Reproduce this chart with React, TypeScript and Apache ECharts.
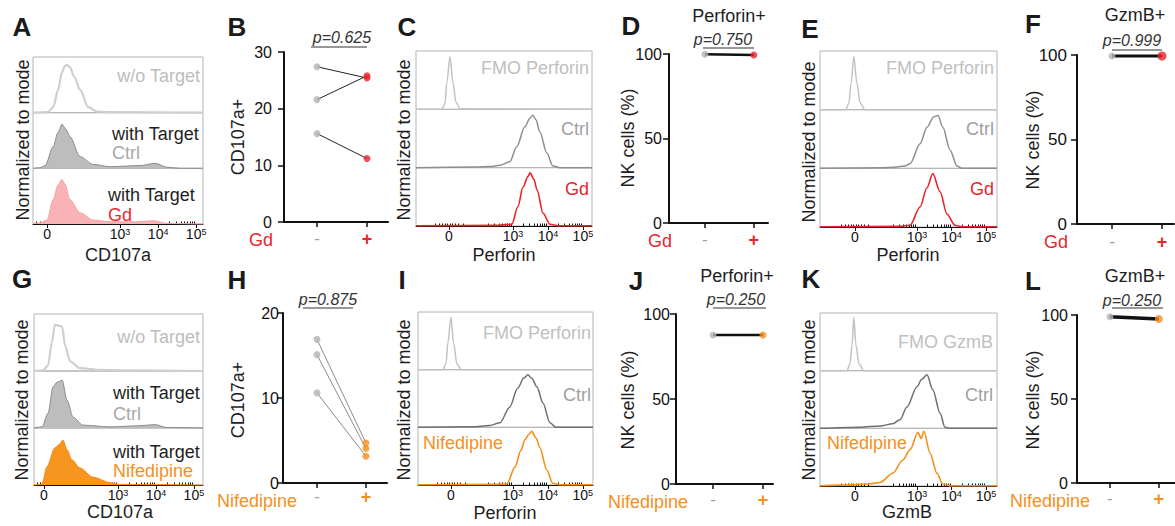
import React, { useEffect, useRef } from 'react';
import * as echarts from 'echarts';

const FONT = '"Liberation Sans", Arial, Helvetica, sans-serif';
const RED = '#e8262d';
const ORANGE = '#f5901e';
const LIGHT = '#c3c3c3';

type Pt = [number, number];

// ---------- histogram data: [display position (decade units), normalized height] ----------
const A_WO_TARGET: Pt[] = [[0.71,0],[1.1,0.01],[1.24,0.1],[1.37,0.41],[1.47,0.72],[1.55,0.84],[1.6,0.86],[1.68,0.82],[1.79,0.65],[1.95,0.41],[2.16,0.1],[2.39,0.02],[2.74,0.01],[5.18,0]];
const A_CTRL: Pt[] = [[0.71,0],[0.89,0.01],[1.03,0.05],[1.24,0.39],[1.37,0.65],[1.47,0.79],[1.58,0.7],[1.68,0.57],[1.95,0.21],[2.29,0.07],[2.74,0.03],[3.53,0.05],[3.92,0.09],[4.24,0.02],[4.58,0],[5.18,0]];
const A_GD: Pt[] = [[0.71,0.01],[0.89,0.02],[1.08,0.07],[1.24,0.44],[1.37,0.7],[1.47,0.8],[1.55,0.72],[1.68,0.44],[1.95,0.2],[2.29,0.07],[2.74,0.04],[3.5,0.04],[3.87,0.06],[4.24,0.01],[5.18,0]];

const C_FMO: Pt[] = [[0.23,0],[0.97,0],[1.06,0.1],[1.11,0.45],[1.2,0.9],[1.29,0.45],[1.37,0.12],[1.49,0.01],[5.26,0]];
const C_CTRL: Pt[] = [[0.23,0],[1.97,0.01],[2.34,0.02],[2.63,0.04],[2.91,0.1],[3.11,0.36],[3.34,0.7],[3.49,0.85],[3.57,0.9],[3.66,0.82],[3.77,0.61],[3.97,0.25],[4.14,0.03],[4.34,0],[5.26,0]];
const C_GD: Pt[] = [[0.23,0.005],[2.5,0.01],[2.97,0.03],[3.14,0.33],[3.29,0.67],[3.43,0.85],[3.49,0.91],[3.6,0.8],[3.69,0.62],[3.86,0.22],[4.06,0.03],[4.3,0.005],[5.26,0.005]];

const E_FMO: Pt[] = [[0.19,0],[0.94,0],[1.03,0.12],[1.09,0.45],[1.17,0.9],[1.26,0.45],[1.35,0.12],[1.49,0],[5.32,0]];
const E_CTRL: Pt[] = [[0.19,0],[1.93,0.01],[2.36,0.02],[2.65,0.04],[2.8,0.08],[3.09,0.42],[3.29,0.7],[3.49,0.88],[3.61,0.9],[3.75,0.7],[3.96,0.31],[4.16,0.04],[4.3,0],[5.32,0]];
const E_GD: Pt[] = [[0.19,0.005],[2.5,0.01],[2.8,0.03],[3.09,0.34],[3.29,0.67],[3.46,0.91],[3.67,0.6],[3.87,0.22],[4.1,0.03],[4.3,0.005],[5.32,0.005]];

const G_WO_TARGET: Pt[] = [[0.79,0],[1.03,0.01],[1.16,0.1],[1.26,0.5],[1.34,0.81],[1.42,0.8],[1.53,0.78],[1.61,0.44],[1.74,0.17],[2.0,0.05],[2.53,0.02],[3.2,0.01],[5.24,0]];
const G_CTRL: Pt[] = [[0.79,0],[1.0,0.02],[1.16,0.26],[1.29,0.72],[1.39,0.8],[1.53,0.84],[1.66,0.49],[1.82,0.19],[2.08,0.05],[2.79,0.02],[3.58,0.04],[3.97,0.06],[4.29,0.01],[5.24,0]];
const G_NIF: Pt[] = [[0.79,0],[1.0,0.01],[1.13,0.32],[1.34,0.65],[1.47,0.72],[1.55,0.79],[1.66,0.62],[1.79,0.44],[2.0,0.3],[2.34,0.14],[2.79,0.04],[3.05,0.01],[5.24,0]];

const I_FMO: Pt[] = [[0.29,0],[1.0,0],[1.09,0.1],[1.14,0.45],[1.23,0.91],[1.31,0.45],[1.4,0.1],[1.54,0],[5.29,0]];
const I_CTRL: Pt[] = [[0.29,0],[1.86,0.01],[2.34,0.03],[2.63,0.08],[2.91,0.35],[3.14,0.68],[3.31,0.85],[3.43,0.91],[3.54,0.85],[3.69,0.7],[3.86,0.42],[4.06,0.08],[4.23,0],[5.29,0]];
const I_NIF: Pt[] = [[0.29,0.005],[2.5,0.01],[2.83,0.02],[3.06,0.31],[3.23,0.6],[3.34,0.78],[3.46,0.88],[3.54,0.93],[3.66,0.82],[3.77,0.65],[3.97,0.26],[4.14,0.03],[4.35,0.005],[5.29,0.005]];

const K_FMO: Pt[] = [[0.19,0],[0.97,0],[1.06,0.12],[1.12,0.45],[1.17,0.93],[1.23,0.45],[1.32,0.12],[1.46,0],[5.32,0]];
const K_CTRL: Pt[] = [[0.19,0],[1.35,0.02],[1.93,0.04],[2.3,0.08],[2.51,0.15],[2.71,0.37],[3.0,0.72],[3.14,0.85],[3.29,0.93],[3.46,0.67],[3.67,0.26],[3.81,0.02],[3.96,0],[5.32,0]];
const K_NIF: Pt[] = [[0.19,0.005],[1.14,0.02],[1.64,0.04],[1.93,0.06],[2.3,0.22],[2.59,0.45],[2.8,0.63],[3.03,0.93],[3.12,0.82],[3.2,0.95],[3.38,0.57],[3.58,0.22],[3.75,0.03],[3.96,0.005],[5.32,0.005]];

// ---------- paired dot-plot data ----------
const B_CTRL = [27.4, 21.6, 15.6];
const B_GD = [25.4, 25.8, 11.2];
const D_CTRL = [99.8];
const D_GD = [99.4];
const F_CTRL = [99.4];
const F_GD = [99.4];
const H_CTRL = [16.9, 15.1, 10.6];
const H_NIF = [4.7, 4.05, 3.15];
const J_CTRL = [87.6];
const J_NIF = [87.6];
const L_CTRL = [99.0];
const L_NIF = [97.6];

// axis tick labels
const DECADES = [3, 4, 5];
const MINOR_MULTS = [2, 3, 4, 5, 6, 7, 8, 9];
const ZERO_TICK_OFFSETS = [-0.4, -0.28, -0.18, -0.1, -0.04, 0.04, 0.1, 0.18, 0.28, 0.4];
const GROUP_LABELS = ['-', '+'];

interface Track { data: Pt[]; line: string; width: number; fill?: string }
interface Hist { L: number; R: number; T: number; B: number; umin: number; umax: number; zero: number; tracks: Track[] }
interface Dot {
  X: number; R: number; T: number; B: number; xmin: number; xmax: number; ymax: number; interval: number;
  ctrl: number[]; treat: number[]; color: string; lineColor: string; lineWidth: number; dot: number; tdot: number;
  xMargin: number; yMargin: number; yFont?: number;
}

function buildOption() {
  const grid: any[] = [], xAxis: any[] = [], yAxis: any[] = [], series: any[] = [];

  const addHist = (p: Hist) => {
    const h = (p.B - p.T) / 3;
    const majors = [p.zero, ...DECADES];
    const minors: number[] = [];
    ZERO_TICK_OFFSETS.forEach((o) => minors.push(p.zero + o));
    [2, 3, 4].forEach((d) => MINOR_MULTS.forEach((m) => {
      const v = d + Math.log10(m);
      if (v > p.zero + 0.5 && v < p.umax) minors.push(v);
    }));
    p.tracks.forEach((t, i) => {
      const gi = grid.length;
      grid.push({ left: p.L, top: p.T + i * h, width: p.R - p.L, height: h, show: true, borderColor: '#b4b4b4', borderWidth: 1, backgroundColor: 'transparent' });
      const bottom = i === 2;
      const xi = xAxis.length;
      xAxis.push({
        type: 'value', gridIndex: gi, min: p.umin, max: p.umax, show: bottom,
        axisLine: { show: true, onZero: false, lineStyle: { color: '#111', width: 1 } },
        axisTick: { show: true, length: 4, customValues: majors, lineStyle: { color: '#111', width: 1 } },
        axisLabel: {
          show: true, customValues: majors, margin: 3,
          formatter: (v: number) => (Math.abs(v - p.zero) < 1e-6 ? '{n|0}' : `{n|10}{s|${Math.round(v)}}`),
          rich: {
            n: { fontSize: 14, fontFamily: FONT, color: '#111' },
            s: { fontSize: 9, fontFamily: FONT, color: '#111', verticalAlign: 'top' },
          },
        },
        splitLine: { show: false },
      });
      if (bottom) {
        xAxis.push({
          type: 'value', gridIndex: gi, min: p.umin, max: p.umax, show: true,
          axisLine: { show: false },
          axisTick: { show: true, length: 2.5, customValues: minors, lineStyle: { color: '#111', width: 1 } },
          axisLabel: { show: false },
          splitLine: { show: false },
        });
      }
      const yi = yAxis.length;
      yAxis.push({ type: 'value', gridIndex: gi, min: 0, max: 1, show: false, splitLine: { show: false } });
      series.push({
        type: 'line', xAxisIndex: xi, yAxisIndex: yi, data: t.data, symbol: 'none', showSymbol: false,
        smooth: 0.3, smoothMonotone: 'x', clip: false, silent: true,
        lineStyle: { color: t.line, width: t.width },
        areaStyle: t.fill ? { color: t.fill, opacity: 1 } : undefined,
        z: 2,
      });
    });
  };

  const addDot = (p: Dot) => {
    const gi = grid.length;
    grid.push({ left: p.X, top: p.T, width: p.R - p.X, height: p.B - p.T, show: false });
    const xi = xAxis.length;
    xAxis.push({
      type: 'value', gridIndex: gi, min: p.xmin, max: p.xmax,
      axisLine: { show: true, onZero: false, lineStyle: { color: '#111', width: 2 } },
      axisTick: { show: true, length: 5, customValues: [1, 2], lineStyle: { color: '#111', width: 1.5 } },
      axisLabel: {
        show: true, customValues: [1, 2], margin: p.xMargin,
        formatter: (v: number) => (v < 1.5 ? `{m|${GROUP_LABELS[0]}}` : `{p|${GROUP_LABELS[1]}}`),
        rich: {
          m: { fontSize: 17, fontFamily: FONT, color: '#a0a0a0' },
          p: { fontSize: 18, fontFamily: FONT, color: p.color, fontWeight: 'bold' },
        },
      },
      splitLine: { show: false },
    });
    const yi = yAxis.length;
    yAxis.push({
      type: 'value', gridIndex: gi, min: 0, max: p.ymax, interval: p.interval,
      axisLine: { show: true, onZero: false, lineStyle: { color: '#111', width: 2 } },
      axisTick: { show: true, length: 6, lineStyle: { color: '#111', width: 1.5 } },
      axisLabel: { show: true, fontSize: p.yFont || 17, fontFamily: FONT, color: '#111', margin: p.yMargin },
      splitLine: { show: false },
    });
    p.ctrl.forEach((c, i) => {
      series.push({
        type: 'line', xAxisIndex: xi, yAxisIndex: yi, data: [[1, c], [2, p.treat[i]]], symbol: 'none',
        clip: false, silent: true, lineStyle: { color: p.lineColor, width: p.lineWidth }, z: 2,
      });
    });
    series.push({
      type: 'scatter', xAxisIndex: xi, yAxisIndex: yi, data: p.ctrl.map((v) => [1, v]), symbolSize: p.dot,
      clip: false, silent: true, itemStyle: { color: '#b4b4b4' }, z: 3,
    });
    series.push({
      type: 'scatter', xAxisIndex: xi, yAxisIndex: yi, data: p.treat.map((v) => [2, v]), symbolSize: p.tdot,
      clip: false, silent: true, itemStyle: { color: p.color }, z: 3,
    });
  };

  // Row 1
  addHist({ L: 33, R: 203, T: 57, B: 224, umin: 0.71, umax: 5.18, zero: 1.08, tracks: [
    { data: A_WO_TARGET, line: '#cfcfcf', width: 2.2 },
    { data: A_CTRL, line: '#8d8d8d', width: 1, fill: '#bdbdbd' },
    { data: A_GD, line: '#f7a3a7', width: 1, fill: '#f9b3b6' },
  ] });
  addDot({ X: 284, R: 388, T: 52, B: 222, xmin: 0.34, xmax: 2.42, ymax: 30, interval: 10, ctrl: B_CTRL, treat: B_GD,
    color: RED, lineColor: '#222', lineWidth: 1, dot: 7, tdot: 7, xMargin: 8, yMargin: 12, yFont: 16 });
  addHist({ L: 416, R: 592, T: 51, B: 226, umin: 0.23, umax: 5.26, zero: 1.17, tracks: [
    { data: C_FMO, line: LIGHT, width: 1.5 },
    { data: C_CTRL, line: '#8e8e8e', width: 1.5 },
    { data: C_GD, line: RED, width: 1.6 },
  ] });
  addDot({ X: 669, R: 768, T: 54, B: 223, xmin: 0.265, xmax: 2.29, ymax: 100, interval: 50, ctrl: D_CTRL, treat: D_GD,
    color: RED, lineColor: '#111', lineWidth: 2.5, dot: 7, tdot: 7, xMargin: 8, yMargin: 7, yFont: 16 });
  addHist({ L: 820, R: 997, T: 51, B: 227, umin: 0.19, umax: 5.32, zero: 1.2, tracks: [
    { data: E_FMO, line: LIGHT, width: 1.5 },
    { data: E_CTRL, line: '#8e8e8e', width: 1.5 },
    { data: E_GD, line: RED, width: 1.6 },
  ] });
  addDot({ X: 1077, R: 1174, T: 55, B: 224, xmin: 0.3, xmax: 2.24, ymax: 100, interval: 50, ctrl: F_CTRL, treat: F_GD,
    color: RED, lineColor: '#111', lineWidth: 3, dot: 7, tdot: 9, xMargin: 9, yMargin: 10 });

  // Row 2
  addHist({ L: 34, R: 203, T: 314, B: 485, umin: 0.79, umax: 5.24, zero: 1.05, tracks: [
    { data: G_WO_TARGET, line: '#cfcfcf', width: 2.2 },
    { data: G_CTRL, line: '#8d8d8d', width: 1, fill: '#bdbdbd' },
    { data: G_NIF, line: '#f48c18', width: 1, fill: '#f7961f' },
  ] });
  addDot({ X: 283, R: 387, T: 313, B: 483, xmin: 0.306, xmax: 2.43, ymax: 20, interval: 10, ctrl: H_CTRL, treat: H_NIF,
    color: ORANGE, lineColor: '#8c8c8c', lineWidth: 1, dot: 7, tdot: 7, xMargin: 5, yMargin: 4, yFont: 16 });
  addHist({ L: 418, R: 593, T: 312, B: 485, umin: 0.29, umax: 5.29, zero: 1.23, tracks: [
    { data: I_FMO, line: LIGHT, width: 1.5 },
    { data: I_CTRL, line: '#6f6f6f', width: 1.5 },
    { data: I_NIF, line: ORANGE, width: 1.6 },
  ] });
  addDot({ X: 676, R: 773, T: 314, B: 484, xmin: 0.26, xmax: 2.2, ymax: 100, interval: 50, ctrl: J_CTRL, treat: J_NIF,
    color: ORANGE, lineColor: '#111', lineWidth: 2.5, dot: 7, tdot: 7, xMargin: 7, yMargin: 6, yFont: 16 });
  addHist({ L: 820, R: 997, T: 313, B: 486, umin: 0.19, umax: 5.32, zero: 1.2, tracks: [
    { data: K_FMO, line: LIGHT, width: 1.5 },
    { data: K_CTRL, line: '#6f6f6f', width: 1.5 },
    { data: K_NIF, line: ORANGE, width: 1.6 },
  ] });
  addDot({ X: 1077, R: 1175, T: 315, B: 483, xmin: 0.327, xmax: 2.33, ymax: 100, interval: 50, ctrl: L_CTRL, treat: L_NIF,
    color: ORANGE, lineColor: '#111', lineWidth: 3.5, dot: 7, tdot: 8, xMargin: 7, yMargin: 9, yFont: 16 });

  // ---------- texts ----------
  const g: any[] = [];
  const txt = (x: number, y: number, text: string, o: any = {}) => {
    const align = o.align || 'center';
    g.push({
      type: 'text', x, y, rotation: o.rot ? Math.PI / 2 : 0, z: 100, silent: true,
      style: {
        text, x: 0, y: 0, fill: o.color || '#1e1e1e',
        font: `${o.italic ? 'italic ' : ''}${o.bold ? 'bold ' : ''}${o.size || 18}px ${FONT}`,
        align, textAlign: align, verticalAlign: 'middle', textVerticalAlign: 'middle',
      },
    });
  };
  const uline = (x1: number, x2: number, y: number) => {
    g.push({ type: 'line', z: 100, silent: true, shape: { x1, y1: y, x2, y2: y }, style: { stroke: '#333', lineWidth: 1.2 } });
  };
  const letter = (x: number, y: number, t: string) => txt(x, y, t, { bold: true, size: 26, color: '#1a1a1a' });
  const NORM = 'Normalized to mode';

  // A
  letter(22, 27, 'A');
  txt(23, 140, NORM, { rot: true });
  txt(200, 76, 'w/o Target', { align: 'right', color: '#bdbdbd' });
  txt(112, 134, 'with Target', { align: 'left' });
  txt(112, 153, 'Ctrl', { align: 'left', color: '#a8a8a8' });
  txt(108, 195, 'with Target', { align: 'left' });
  txt(108, 215, 'Gd', { align: 'left', color: RED });
  txt(118, 255, 'CD107a');
  // B
  letter(237, 27, 'B');
  txt(238, 137, 'CD107a+', { rot: true });
  txt(342, 37.5, 'p=0.625', { italic: true, size: 16, color: '#333' });
  uline(311, 367, 47);
  txt(273, 240, 'Gd', { align: 'right', color: RED });
  // C
  letter(407, 27, 'C');
  txt(404, 140, NORM, { rot: true });
  txt(589, 68, 'FMO Perforin', { align: 'right', color: '#c0c0c0' });
  txt(589, 129, 'Ctrl', { align: 'right', color: '#a0a0a0' });
  txt(589, 189, 'Gd', { align: 'right', color: RED });
  txt(504, 255, 'Perforin');
  // D
  letter(631, 26, 'D');
  txt(729, 16, 'Perforin+');
  txt(723, 39, 'p=0.750', { italic: true, size: 16, color: '#333' });
  uline(703, 754, 48);
  txt(628, 138, 'NK cells (%)', { rot: true });
  txt(672, 241, 'Gd', { align: 'right', color: RED });
  // E
  letter(810, 29, 'E');
  txt(809, 142, NORM, { rot: true });
  txt(994, 68, 'FMO Perforin', { align: 'right', color: '#c0c0c0' });
  txt(994, 129, 'Ctrl', { align: 'right', color: '#a0a0a0' });
  txt(994, 189, 'Gd', { align: 'right', color: RED });
  txt(908, 255, 'Perforin');
  // F
  letter(1033, 24, 'F');
  txt(1135, 15, 'GzmB+');
  txt(1132, 40, 'p=0.999', { italic: true, size: 16, color: '#333' });
  uline(1112, 1162, 50);
  txt(1033, 140, 'NK cells (%)', { rot: true });
  txt(1068, 242, 'Gd', { align: 'right', color: RED });
  // G
  letter(22, 279, 'G');
  txt(22, 400, NORM, { rot: true });
  txt(200, 337, 'w/o Target', { align: 'right', color: '#bdbdbd' });
  txt(113, 393, 'with Target', { align: 'left' });
  txt(113, 414, 'Ctrl', { align: 'left', color: '#a8a8a8' });
  txt(113, 452, 'with Target', { align: 'left' });
  txt(113, 471, 'Nifedipine', { align: 'left', color: ORANGE });
  txt(120, 512, 'CD107a');
  // H
  letter(237, 280, 'H');
  txt(238, 400, 'CD107a+', { rot: true });
  txt(328, 299, 'p=0.875', { italic: true, size: 16, color: '#333' });
  uline(303, 353, 308);
  txt(297, 501, 'Nifedipine', { align: 'right', color: ORANGE });
  // I
  letter(402, 280, 'I');
  txt(404, 400, NORM, { rot: true });
  txt(591, 333, 'FMO Perforin', { align: 'right', color: '#c0c0c0' });
  txt(591, 395, 'Ctrl', { align: 'right', color: '#a0a0a0' });
  txt(423, 443, 'Nifedipine', { align: 'left', color: ORANGE });
  txt(505, 513, 'Perforin');
  // J
  letter(636, 281, 'J');
  txt(737, 276, 'Perforin+');
  txt(736, 299, 'p=0.250', { italic: true, size: 16, color: '#333' });
  uline(713, 766, 308);
  txt(628, 400, 'NK cells (%)', { rot: true });
  txt(688, 502, 'Nifedipine', { align: 'right', color: ORANGE });
  // K
  letter(811, 279, 'K');
  txt(809, 400, NORM, { rot: true });
  txt(993, 342, 'FMO GzmB', { align: 'right', color: '#c0c0c0' });
  txt(993, 395, 'Ctrl', { align: 'right', color: '#a0a0a0' });
  txt(827, 443, 'Nifedipine', { align: 'left', color: ORANGE });
  txt(907, 512, 'GzmB');
  // L
  letter(1033, 281, 'L');
  txt(1135, 276, 'GzmB+');
  txt(1132, 300, 'p=0.250', { italic: true, size: 16, color: '#333' });
  uline(1112, 1163, 308);
  txt(1033, 400, 'NK cells (%)', { rot: true });
  txt(1090, 501, 'Nifedipine', { align: 'right', color: ORANGE });

  return {
    animation: false,
    backgroundColor: '#ffffff',
    textStyle: { fontFamily: FONT },
    grid, xAxis, yAxis, series,
    graphic: { elements: g },
  };
}

export default function App() {
  const ref = useRef<HTMLDivElement>(null);
  useEffect(() => {
    if (!ref.current) return;
    const chart = echarts.init(ref.current, undefined, { renderer: 'svg' });
    chart.setOption(buildOption() as any);
    return () => chart.dispose();
  }, []);
  return (
    <div
      ref={ref}
      style={{ position: 'absolute', left: 0, top: 0, width: 1175, height: 526, background: '#fff' }}
    />
  );
}
